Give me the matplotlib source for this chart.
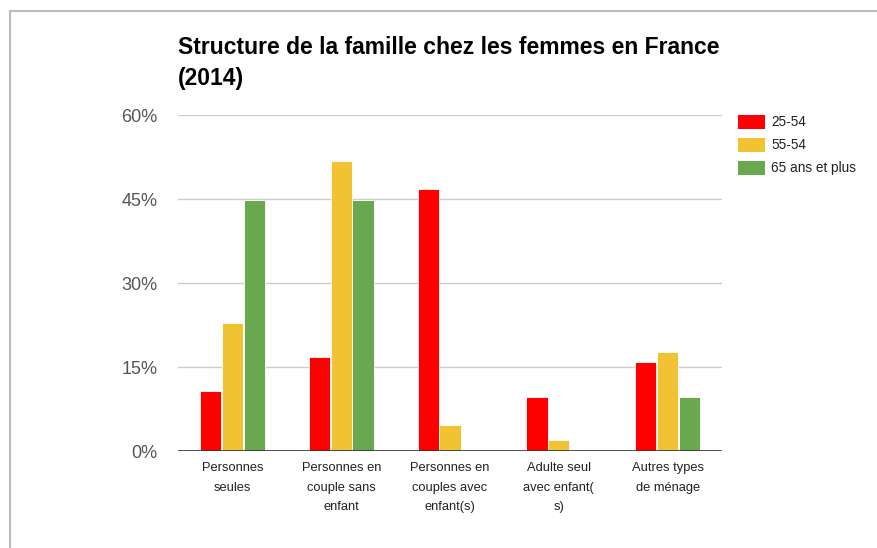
import numpy as np
import matplotlib
matplotlib.use("Agg")
import matplotlib.pyplot as plt
from matplotlib.patches import Rectangle
from matplotlib.lines import Line2D

plt.rcParams['font.family'] = ['Liberation Sans', 'DejaVu Sans']

# données
categories = ["Personnes\nseules", "Personnes en\ncouple sans\nenfant",
              "Personnes en\ncouples avec\nenfant(s)", "Adulte seul\navec enfant(\ns)",
              "Autres types\nde ménage"]
series = ["25-54", "55-54", "65 ans et plus"]
v_25_54 = [10.7, 16.8, 46.8, 9.7, 15.9]
v_55_54 = [22.9, 51.8, 4.7, 1.9, 17.7]
v_65 = [44.8, 44.8, 0, 0, 9.7]
values = [v_25_54, v_55_54, v_65]
colors = ["#ff0000", "#f1c232", "#6aa84f"]
yticks = [0, 15, 30, 45, 60]

W, H = 877, 548
fig = plt.figure(figsize=(W / 100, H / 100), dpi=100)
ax = fig.add_axes([178 / W, 1 - 451 / H, 544 / W, 336 / H])

x = np.arange(len(categories))
bw = 0.195
for i, (vals, c) in enumerate(zip(values, colors)):
    ax.bar(x + (i - 1) * 0.2, vals, width=bw, color=c, edgecolor="white",
           linewidth=0.6, zorder=3)

ax.set_xlim(-0.5, len(categories) - 0.5)
ax.set_ylim(0, 60)
ax.set_yticks(yticks)
ax.set_yticklabels([f"{t}%" for t in yticks], color="#555555", fontsize=13)
ax.set_xticks(x)
ax.set_xticklabels(categories, fontsize=9.3, color="#222222", linespacing=1.85,
                   va="top")
ax.tick_params(axis="both", length=0)
ax.tick_params(axis="y", pad=15)
ax.tick_params(axis="x", pad=8)
for s in ax.spines.values():
    s.set_visible(False)
ax.grid(axis="y", color="#cccccc", linewidth=1, zorder=0)
ax.axhline(0, color="#333333", linewidth=1.2, zorder=4)

fig.text(178 / W, 1 - 36 / H, "Structure de la famille chez les femmes en France\n(2014)",
         fontsize=16.5, fontweight="bold", ha="left", va="top", linespacing=1.45)

# légende
for i, (name, c) in enumerate(zip(series, colors)):
    yc = 122 + i * 23
    fig.add_artist(Rectangle((738 / W, 1 - (yc + 7) / H), 27 / W, 14 / H,
                             facecolor=c, edgecolor="none", transform=fig.transFigure))
    fig.text(771 / W, 1 - yc / H, name, fontsize=9.8, color="#222222",
             ha="left", va="center")

# cadre
fig.add_artist(Line2D([10 / W, 10 / W], [0, 1 - 11 / H], color="#bbbbbb",
                      linewidth=1.5, transform=fig.transFigure))
fig.add_artist(Line2D([10 / W, 1], [1 - 11 / H, 1 - 11 / H], color="#bbbbbb",
                      linewidth=1.5, transform=fig.transFigure))

fig.savefig("out.png", dpi=100)
